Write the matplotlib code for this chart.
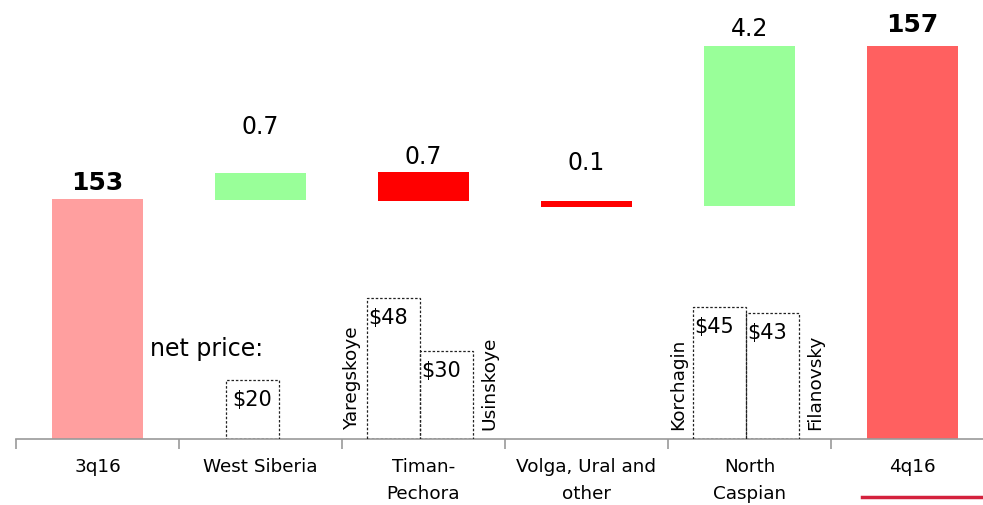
#!/usr/bin/env python3
"""Waterfall: 3q16 -> 4q16 by region, with net price boxes."""

import matplotlib.pyplot as plt
from matplotlib.patches import Rectangle

# ---- data -------------------------------------------------------------
categories = ["3q16", "West Siberia", "Timan-\nPechora",
              "Volga, Ural and\nother", "North\nCaspian", "4q16"]
value_labels = ["153", "0.7", "0.7", "0.1", "4.2", "157"]
bold_labels = [True, False, False, False, False, True]
# stylised (not to scale) bar extents as drawn on the slide
bar_bottom = [0, 239, 238, 232, 233, 0]
bar_top = [240, 266, 267, 238, 393, 393]
bar_colors = ["#ff9f9f", "#99ff99", "#ff0000", "#ff0000", "#99ff99", "#ff6060"]

# net price boxes: (category index, field, price)
price_cat = [1, 2, 2, 4, 4]
price_field = ["", "Yaregskoye", "Usinskoye", "Korchagin", "Filanovsky"]
price_value = [20, 48, 30, 45, 43]

# ---- layout ------------------------------------------------------------
label_gap = [16, 46, 15, 38, 17, 21]
price_scale = 2.93
box_left = [0.288, 0.153, 0.479, 0.153, 0.479]
box_w = 0.325
field_x = [None, 0.06, 0.905, 0.06, 0.90]

fig = plt.figure(figsize=(9.83, 5.05), dpi=100)
ax = fig.add_axes([16 / 983, 66 / 505, 967 / 983, 439 / 505])
ax.set_xlim(0, 967 / 163)
ax.set_ylim(0, 439)

bar_w = 0.558
for i, (b, t, c) in enumerate(zip(bar_bottom, bar_top, bar_colors)):
    ax.bar(i + 0.5, t - b, bottom=b, width=bar_w, color=c, zorder=2)
    ax.text(i + 0.5, t + label_gap[i], value_labels[i], ha="center",
            va="center", fontsize=18 if bold_labels[i] else 17,
            fontweight="bold" if bold_labels[i] else "normal")

for k, (ci, name, p) in enumerate(zip(price_cat, price_field, price_value)):
    h = p * price_scale
    x0 = ci + box_left[k]
    ax.add_patch(Rectangle((x0, 0), box_w, h, fill=False, ls=(0, (2, 1.5)),
                           lw=0.9, ec="#222222", zorder=3))
    ax.text(x0 + (box_w / 2 if k == 0 else 0.008), h - 20, f"${p}",
            ha="center" if k == 0 else "left", va="center", fontsize=15)
    if name:
        ax.text(ci + field_x[k], 9, name, rotation=90, ha="center",
                va="bottom", fontsize=13.3)

ax.text(0.82, 90, "net price:", ha="left", va="center", fontsize=17)

for s in ["top", "right", "left"]:
    ax.spines[s].set_visible(False)
ax.spines["bottom"].set_color("#999999")
ax.spines["bottom"].set_linewidth(1.2)
ax.set_yticks([])
ax.set_xticks([i + 0.5 for i in range(len(categories))])
ax.set_xticklabels(categories, fontsize=13.2, linespacing=1.6)
ax.tick_params(axis="x", which="major", length=0, pad=14)
ax.set_xticks(range(len(categories)), minor=True)
ax.tick_params(axis="x", which="minor", length=7, color="#999999", width=1.2)

# red underline below final bar label
fig.add_artist(plt.Line2D([862 / 983, 1.0], [8 / 505, 8 / 505],
                          color="#d4213d", lw=2.5))

fig.savefig("out.png", dpi=100)
